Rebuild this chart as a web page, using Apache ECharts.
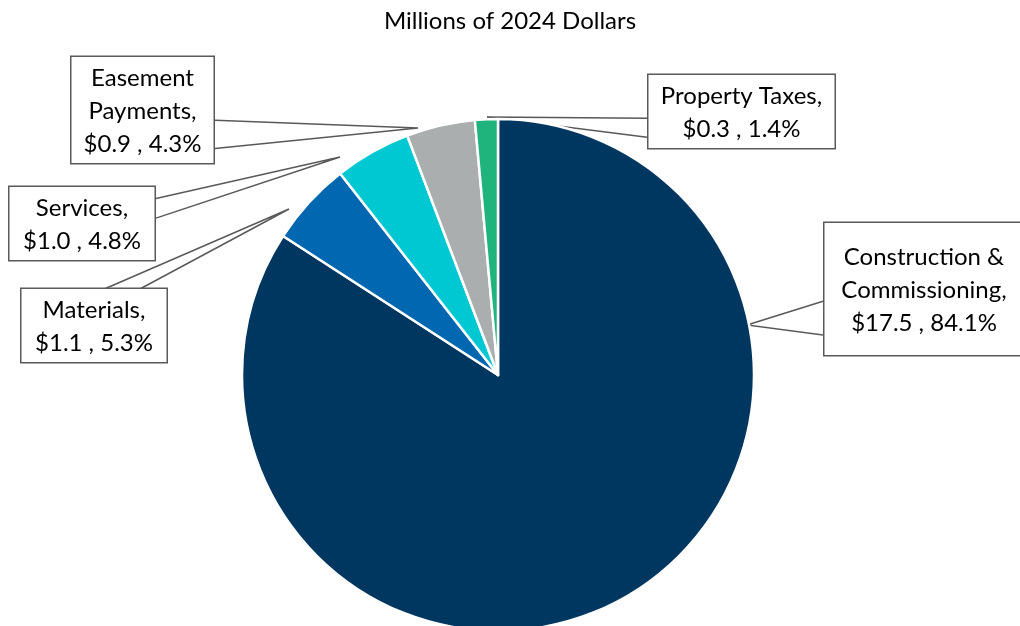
<!DOCTYPE html>
<html>
<head>
<meta charset="utf-8">
<script src="https://cdn.jsdelivr.net/npm/echarts@6/dist/echarts.min.js"></script>
<style>
  html, body { margin: 0; padding: 0; background: #ffffff; }
  #chart { width: 1020px; height: 626px; }
</style>
</head>
<body>
<div id="chart"></div>
<script>
// Cost components, millions of 2024 dollars
const categories = ['Construction &\nCommissioning', 'Materials', 'Services', 'Easement\nPayments', 'Property Taxes'];
const values = [17.5, 1.1, 1.0, 0.9, 0.3];
const sliceColors = ['#003761', '#0067b0', '#00c8d2', '#abaeaf', '#20b47d'];

// Callout boxes: top-left corner, box width, vertical padding,
// wedge tip, and the side of the box the wedge leaves from (span along that side, 0..1)
const callouts = [
  { box: [823, 223], width: 199, pad: [18, 15], tip: [747, 325], side: 'left',  span: [0.58, 0.83] },
  { box: [20, 289],  width: 145, pad: [5, 2],   tip: [289, 209], side: 'top',   span: [0.57, 0.81] },
  { box: [8, 187],   width: 145, pad: [5, 2],   tip: [340, 157], side: 'right', span: [0.15, 0.41] },
  { box: [70, 57],   width: 142, pad: [5, 2],   tip: [418, 128], side: 'right', span: [0.58, 0.84] },
  { box: [647, 75],  width: 186, pad: [5, 2],   tip: [487, 117], side: 'left',  span: [0.57, 0.82] }
];

const FONT = 'Lato, "Noto Sans", sans-serif';

const chart = echarts.init(document.getElementById('chart'), null, { renderer: 'canvas' });

const seriesData = categories.map((name, i) => ({
  name: name,
  value: values[i],
  itemStyle: { color: sliceColors[i] },
  label: {
    width: callouts[i].width,
    padding: [callouts[i].pad[0], 0, callouts[i].pad[1], 0]
  }
}));

function wedgeBase(c, w, h) {
  const [x0, y0] = c.box;
  const [s0, s1] = c.span;
  switch (c.side) {
    case 'left':  return [[x0, y0 + h * s0], [x0, y0 + h * s1]];
    case 'right': return [[x0 + w, y0 + h * s0], [x0 + w, y0 + h * s1]];
    case 'top':   return [[x0 + w * s0, y0], [x0 + w * s1, y0]];
    default:      return [[x0 + w * s0, y0 + h], [x0 + w * s1, y0 + h]];
  }
}

chart.setOption({
  animation: false,
  backgroundColor: '#ffffff',
  title: {
    text: 'Millions of 2024 Dollars',
    left: 505,
    top: 4,
    textAlign: 'center',
    textStyle: { fontFamily: FONT, fontSize: 24, fontWeight: 'normal', color: '#000000' }
  },
  series: [{
    type: 'pie',
    center: [498, 375],
    radius: 256,
    startAngle: 90,
    clockwise: true,
    avoidLabelOverlap: false,
    itemStyle: { borderColor: '#ffffff', borderWidth: 2.5 },
    label: {
      show: true,
      position: 'outside',
      formatter: p => p.name + ',\n$' + p.value.toFixed(1) + ' , ' + p.percent.toFixed(1) + '%',
      fontFamily: FONT,
      fontSize: 24,
      lineHeight: 33,
      color: '#000000',
      align: 'center',
      backgroundColor: '#ffffff',
      borderColor: '#595959',
      borderWidth: 1.5
    },
    labelLine: {
      show: true,
      smooth: false,
      lineStyle: { color: '#595959', width: 1.5 }
    },
    labelLayout: function (params) {
      const c = callouts[params.dataIndex];
      const r = params.labelRect;
      const [a, b] = wedgeBase(c, r.width, r.height);
      return {
        x: c.box[0] + r.width / 2,
        y: c.box[1],
        align: 'center',
        verticalAlign: 'top',
        labelLinePoints: [a, c.tip, b]
      };
    },
    emphasis: { disabled: true },
    data: seriesData
  }]
});
</script>
</body>
</html>
